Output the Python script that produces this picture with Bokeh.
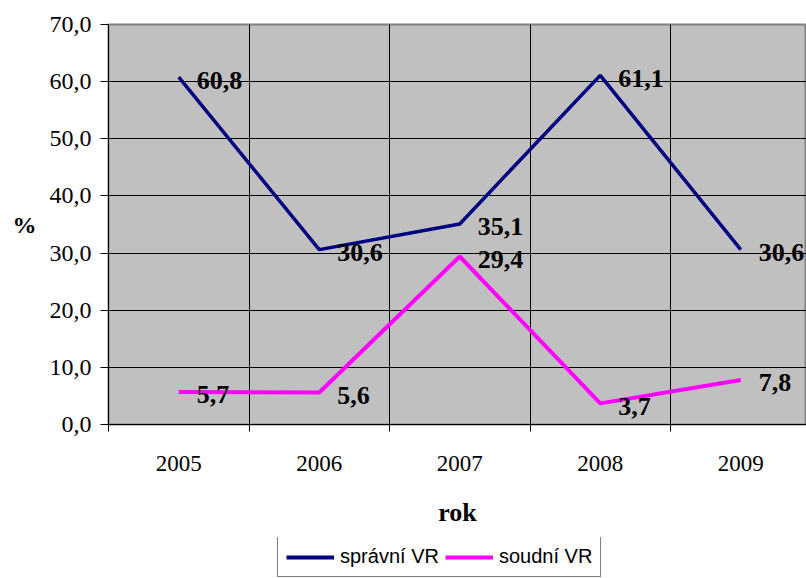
from bokeh.plotting import figure
from bokeh.layouts import column
from bokeh.models import (Range1d, FixedTicker, Legend, LegendItem,
                          ColumnDataSource)
from bokeh.core.properties import value
from bokeh.embed import file_html
from bokeh.resources import INLINE

years = ["2005", "2006", "2007", "2008", "2009"]
spravni = [60.8, 30.6, 35.1, 61.1, 30.6]
soudni = [5.7, 5.6, 29.4, 3.7, 7.8]
y_ticks = [0, 10, 20, 30, 40, 50, 60, 70]
series_names = ["správní VR", "soudní VR"]
series_colors = ["#000080", "#FF00FF"]

def fmt(v):
    return f"{v:.1f}".replace(".", ",")

xs = list(range(len(years)))

p = figure(frame_width=698, frame_height=400, output_backend="svg",
           toolbar_location=None,
           x_range=Range1d(-0.5, -0.5 + 698 / 140.5), y_range=Range1d(0, 70),
           min_border_left=108, min_border_right=0, min_border_top=24,
           min_border_bottom=113)
p.background_fill_color = "#C0C0C0"
p.border_fill_color = "white"
p.outline_line_color = "#808080"
p.outline_line_width = 2

serif = "Liberation Serif"

# y axis
p.yaxis.ticker = FixedTicker(ticks=y_ticks)
p.yaxis.major_label_overrides = {t: fmt(t) for t in y_ticks}
p.yaxis.major_label_text_font = serif
p.yaxis.major_label_text_font_size = "24px"
p.yaxis.major_label_text_color = "black"
p.yaxis.axis_line_color = "black"
p.yaxis.major_tick_out = 8
p.yaxis.major_tick_in = 0
p.yaxis.minor_tick_line_color = None
p.yaxis.major_label_standoff = 9
p.yaxis.axis_label = "%"
p.yaxis.axis_label_orientation = "horizontal"
p.yaxis.axis_label_text_font = serif
p.yaxis.axis_label_text_font_size = "24px"
p.yaxis.axis_label_text_font_style = "bold"
p.yaxis.axis_label_text_color = "black"
p.yaxis.axis_label_standoff = 10
p.ygrid.grid_line_color = "black"
p.ygrid.grid_line_width = 1

# x axis
bounds = [i - 0.5 for i in range(len(years) + 1)]
p.xaxis.ticker = FixedTicker(ticks=xs, minor_ticks=bounds)
p.xaxis.major_label_overrides = {i: y for i, y in enumerate(years)}
p.xaxis.major_tick_out = 0
p.xaxis.major_tick_in = 0
p.xaxis.minor_tick_out = 7
p.xaxis.minor_tick_in = 0
p.xaxis.minor_tick_line_color = "black"
p.xaxis.axis_line_color = "black"
p.xaxis.major_label_text_font = serif
p.xaxis.major_label_text_font_size = "23px"
p.xaxis.major_label_text_color = "black"
p.xaxis.major_label_standoff = 24
p.xaxis.axis_label = "rok"
p.xaxis.axis_label_text_font = serif
p.xaxis.axis_label_text_font_size = "26px"
p.xaxis.axis_label_text_font_style = "bold"
p.xaxis.axis_label_text_color = "black"
p.xaxis.axis_label_standoff = 24
p.xgrid.ticker = FixedTicker(ticks=bounds)
p.xgrid.grid_line_color = "black"
p.xgrid.grid_line_width = 1

src = ColumnDataSource(dict(x=xs, a=spravni, b=soudni,
                            la=[fmt(v) for v in spravni],
                            lb=[fmt(v) for v in soudni]))

r1 = p.line("x", "a", source=src, line_color=series_colors[0], line_width=3.5)
r2 = p.line("x", "b", source=src, line_color=series_colors[1], line_width=4)

for ycol, col in (("a", "la"), ("b", "lb")):
    p.text("x", ycol, text=col, source=src, x_offset=18, y_offset=3,
           text_font=value(serif), text_font_size="26px",
           text_font_style="bold", text_color="black",
           text_baseline="middle", text_align="left")

# legend strip below the chart (its series are drawn off-range, only the
# legend is visible)
q = figure(width=806, height=41, output_backend="svg", toolbar_location=None,
           x_axis_type=None, y_axis_type=None,
           x_range=Range1d(100, 101), y_range=Range1d(100, 101),
           min_border_left=0, min_border_right=0, min_border_top=0,
           min_border_bottom=0)
q.outline_line_color = None
q.background_fill_color = "white"
q.border_fill_color = "white"
q.xgrid.visible = False
q.ygrid.visible = False
d1 = q.line("x", "a", source=src, line_color=series_colors[0], line_width=4)
d2 = q.line("x", "b", source=src, line_color=series_colors[1], line_width=4)

legend = Legend(items=[LegendItem(label=series_names[0], renderers=[d1]),
                       LegendItem(label=series_names[1], renderers=[d2])],
                orientation="horizontal", location=(169, 1))
legend.label_text_font = "Liberation Sans"
legend.label_text_font_size = "20px"
legend.label_text_color = "black"
legend.border_line_color = "black"
legend.border_line_width = 1
legend.background_fill_color = "white"
legend.background_fill_alpha = 1
legend.glyph_width = 48
legend.glyph_height = 20
legend.label_standoff = 6
legend.spacing = 6
legend.padding = 8
legend.margin = 0
q.add_layout(legend, "center")

open("out.html", "w").write(file_html(column(p, q, spacing=0), INLINE))
